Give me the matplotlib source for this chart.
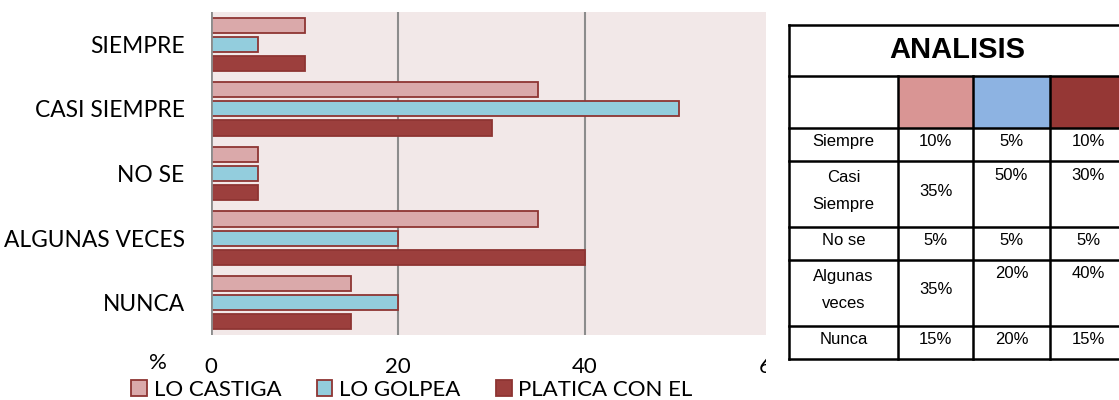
import matplotlib
matplotlib.use("Agg")
import matplotlib.pyplot as plt
import numpy as np
from matplotlib.patches import Rectangle

# ---------------- data ----------------
categories = ["SIEMPRE", "CASI SIEMPRE", "NO SE", "ALGUNAS VECES", "NUNCA"]
series_names = ["LO CASTIGA", "LO GOLPEA", "PLATICA CON EL"]
lo_castiga = [10, 35, 5, 35, 15]
lo_golpea = [5, 50, 5, 20, 20]
platica = [10, 30, 5, 40, 15]
x_ticks = [0, 20, 40, 60]

table_title = "ANALISIS"
table_rows = [["Siempre"], ["Casi", "Siempre"], ["No se"], ["Algunas", "veces"], ["Nunca"]]
table_castiga = ["10%", "35%", "5%", "35%", "15%"]
table_golpea = ["5%", "50%", "5%", "20%", "20%"]
table_platica = ["10%", "30%", "5%", "40%", "15%"]

# ---------------- style ----------------
W, H = 1119, 400
fig = plt.figure(figsize=(W / 100, H / 100), dpi=100)
FONT = ["Lato", "DejaVu Sans"]
TFONT = ["Liberation Sans", "DejaVu Sans"]

fills = ["#DAA9AA", "#93CDDD", "#9C3F3D"]
edge = "#8E3533"

def fx(px):
    return px / W

def fy(py):
    return 1 - py / H

ax = fig.add_axes([fx(211), fy(335), fx(772) - fx(211), fy(12) - fy(335)])
ax.set_facecolor("#F2E8E8")
y = np.arange(len(categories))
bh = 0.235
step = 0.295
for i, vals in enumerate([lo_castiga, lo_golpea, platica]):
    ax.barh(y + (i - 1) * step, vals, height=bh, color=fills[i], edgecolor=edge,
            linewidth=1.3, label=series_names[i], zorder=3)
ax.set_xlim(0, 60)
ax.set_ylim(len(categories) - 0.5, -0.5)
ax.set_yticks(y)
ax.set_yticklabels(categories, fontsize=16.4, family=FONT, color="#000000")
ax.set_xticks(x_ticks)
ax.set_xticklabels([str(t) for t in x_ticks], fontsize=16, family=FONT)
ax.tick_params(axis="both", length=0)
ax.tick_params(axis="y", pad=19)
ax.tick_params(axis="x", pad=16)
for s in ax.spines.values():
    s.set_visible(False)
ax.axvline(0, color="#8C8C8C", lw=2, zorder=4)
ax.grid(axis="x", color="#8C8C8C", lw=1.5, zorder=1)
ax.set_axisbelow(True)

fig.text(fx(158), fy(363), "%", fontsize=16, family=FONT, ha="center", va="center")

# legend
handles, labels = ax.get_legend_handles_labels()
leg = fig.legend(handles, labels, loc="center", bbox_to_anchor=(fx(412), fy(390)),
                 ncol=3, frameon=False, prop={"family": FONT, "size": 16},
                 handlelength=0.7, handleheight=0.7, handletextpad=0.3,
                 columnspacing=1.6, borderaxespad=0)

# white mask covering the right edge of the plot (as in the reference)
fig.patches.append(Rectangle((fx(766), 0), fx(W) - fx(766), 1, transform=fig.transFigure,
                             facecolor="white", edgecolor="none", zorder=5))

# ---------------- table ----------------
tax = fig.add_axes([0, 0, 1, 1], zorder=6)
tax.set_xlim(0, W)
tax.set_ylim(H, 0)
tax.axis("off")
tax.patch.set_alpha(0)

xl, xr = 789, 1130
cols = [789, 898, 973, 1050, 1130]
rows = [25, 76, 128, 161, 227, 260, 326, 359]
lw = 1.8
col_colors = ["#D99594", "#8DB3E2", "#953735"]
for k in range(3):
    tax.add_patch(Rectangle((cols[k + 1], rows[1]), cols[k + 2] - cols[k + 1], rows[2] - rows[1],
                            facecolor=col_colors[k], edgecolor="none", zorder=1))
for r in rows:
    tax.plot([xl, xr], [r, r], color="black", lw=lw, zorder=3, solid_capstyle="projecting")
tax.plot([xl, xl], [rows[0], rows[-1]], color="black", lw=lw, zorder=3)
for c in cols[1:4]:
    tax.plot([c, c], [rows[1], rows[-1]], color="black", lw=lw, zorder=3)

tax.text(957, (rows[0] + rows[1]) / 2 - 1, table_title, fontsize=21,
         fontweight="bold", family=TFONT, ha="center", va="center")

TS = 12
cx = [(cols[0] + cols[1]) / 2, (cols[1] + cols[2]) / 2, (cols[2] + cols[3]) / 2, 1088]
for i in range(len(table_rows)):
    top, bot = rows[2 + i], rows[3 + i]
    mid = (top + bot) / 2
    lab = table_rows[i]
    vals = [table_castiga[i], table_golpea[i], table_platica[i]]
    if len(lab) == 1:
        tax.text(cx[0], mid - 3, lab[0], fontsize=TS, family=TFONT, ha="center", va="center")
        for k in range(3):
            tax.text(cx[k + 1], mid - 3, vals[k], fontsize=TS, family=TFONT, ha="center", va="center")
    else:
        tax.text(cx[0], top + 16, lab[0], fontsize=TS, family=TFONT, ha="center", va="center")
        tax.text(cx[0], top + 44, lab[1], fontsize=TS, family=TFONT, ha="center", va="center")
        tax.text(cx[1], mid - 3, vals[0], fontsize=TS, family=TFONT, ha="center", va="center")
        for k in (1, 2):
            tax.text(cx[k + 1], top + 14, vals[k], fontsize=TS, family=TFONT, ha="center", va="center")

fig.savefig("out.png", dpi=100, facecolor="white")
